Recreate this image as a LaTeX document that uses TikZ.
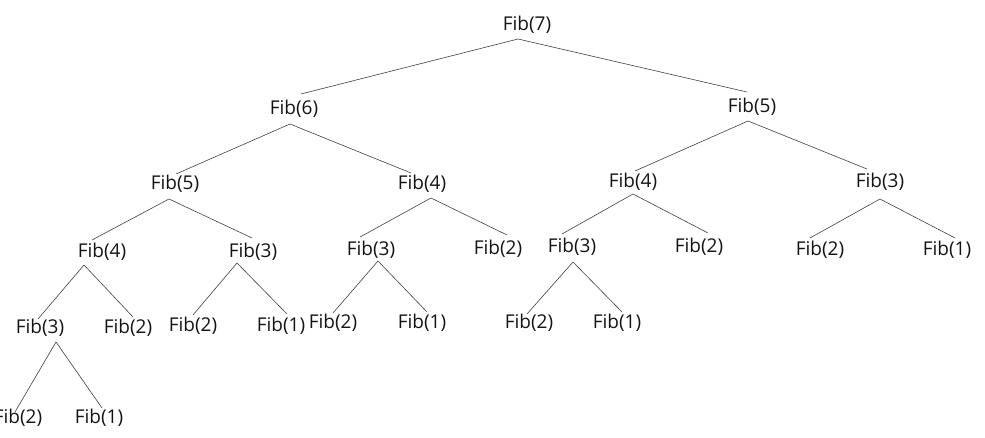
\documentclass[tikz,border=0pt]{standalone}
\usepackage{fontspec}
\setmainfont{Open Sans}
\usetikzlibrary{calc}
\begin{document}
\begin{tikzpicture}[x=1pt,y=-1pt,
  fib/.style={inner sep=0pt,font=\fontsize{19}{22}\selectfont,text=black!92},
  edge/.style={draw=black!75,line width=0.6pt}]
\useasboundingbox (0,0) rectangle (985,438);
\node[fib] (n7)  at (527,25)  {Fib(7)};
\node[fib] (n6)  at (294,109) {Fib(6)};
\node[fib] (n5r) at (752,107) {Fib(5)};
\node[fib] (n5l) at (175,184) {Fib(5)};
\node[fib] (n4m) at (422,184) {Fib(4)};
\node[fib] (n4r) at (633,182) {Fib(4)};
\node[fib] (n3r) at (880,182) {Fib(3)};
\node[fib] (n4l) at (102,252) {Fib(4)};
\node[fib] (n3a) at (253,252) {Fib(3)};
\node[fib] (n3b) at (371,250) {Fib(3)};
\node[fib] (n2a) at (498,249) {Fib(2)};
\node[fib] (n3c) at (572,247) {Fib(3)};
\node[fib] (n2b) at (699,247) {Fib(2)};
\node[fib] (n2c) at (820,250) {Fib(2)};
\node[fib] (n1a) at (947,250) {Fib(1)};
\node[fib] (n3d) at (40,328)  {Fib(3)};
\node[fib] (n2d) at (128,328) {Fib(2)};
\node[fib] (n2e) at (193,326) {Fib(2)};
\node[fib] (n1b) at (281,326) {Fib(1)};
\node[fib] (n2f) at (333,323) {Fib(2)};
\node[fib] (n1c) at (422,323) {Fib(1)};
\node[fib] (n2g) at (529,323) {Fib(2)};
\node[fib] (n1d) at (617,323) {Fib(1)};
\node[fib] (n2h) at (18,418)  {Fib(2)};
\node[fib] (n1e) at (99,418)  {Fib(1)};
% edges
\draw[edge] ($(n7)+(-9,14)$) -- ($(n6)+(7,-15)$);
\draw[edge] ($(n7)+(-9,14)$) -- ($(n5r)+(-5,-15)$);
\draw[edge] ($(n6)+(-4,15)$) -- ($(n5l)+(1,-10)$);
\draw[edge] ($(n6)+(-4,15)$) -- ($(n4m)+(-11,-11)$);
\draw[edge] ($(n5r)+(-4,14)$) -- ($(n4r)+(2,-11)$);
\draw[edge] ($(n5r)+(-4,14)$) -- ($(n3r)+(-13,-13)$);
\draw[edge] ($(n5l)+(-6,15)$) -- ($(n4l)+(-10,-12)$);
\draw[edge] ($(n5l)+(-6,15)$) -- ($(n3a)+(-1,-14)$);
\draw[edge] ($(n4m)+(9,14)$) -- ($(n3b)+(-11,-13)$);
\draw[edge] ($(n4m)+(9,14)$) -- ($(n2a)+(9,-14)$);
\draw[edge] ($(n4r)+(0,12)$) -- ($(n3c)+(-10,-13)$);
\draw[edge] ($(n4r)+(0,12)$) -- ($(n2b)+(9,-14)$);
\draw[edge] ($(n3r)+(0,17)$) -- ($(n2c)+(-10,-12)$);
\draw[edge] ($(n3r)+(0,17)$) -- ($(n1a)+(8,-12)$);
\draw[edge] ($(n4l)+(-18,13)$) -- ($(n3d)+(-2,-9)$);
\draw[edge] ($(n4l)+(-18,13)$) -- ($(n2d)+(5,-11)$);
\draw[edge] ($(n3a)+(-16,11)$) -- ($(n2e)+(0,-11)$);
\draw[edge] ($(n3a)+(-16,11)$) -- ($(n1b)+(6,-12)$);
\draw[edge] ($(n3b)+(7,11)$) -- ($(n2f)+(0,-10)$);
\draw[edge] ($(n3b)+(7,11)$) -- ($(n1c)+(5,-11)$);
\draw[edge] ($(n3c)+(1,15)$) -- ($(n2g)+(-2,-9)$);
\draw[edge] ($(n3c)+(1,15)$) -- ($(n1d)+(5,-11)$);
\draw[edge] ($(n3d)+(16,14)$) -- ($(n2h)+(-3,-6)$);
\draw[edge] ($(n3d)+(16,14)$) -- ($(n1e)+(3,-10)$);
\end{tikzpicture}
\end{document}
